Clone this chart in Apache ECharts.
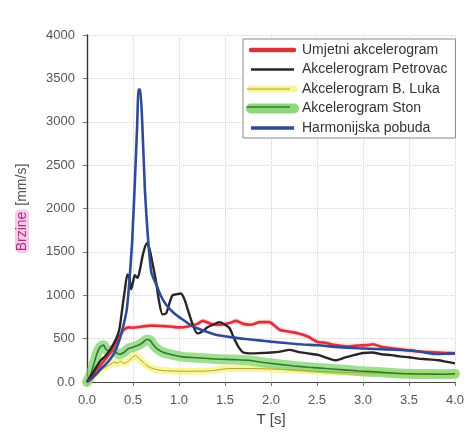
<!DOCTYPE html>
<html>
<head>
<meta charset="utf-8">
<script src="https://cdn.jsdelivr.net/npm/echarts@6/dist/echarts.min.js"></script>
<style>
  html, body { margin: 0; padding: 0; background: #fff; }
  #chart { width: 467px; height: 432px; }
</style>
</head>
<body>
<div id="chart"></div>
<script>
// Velocity spectra: period T [s] vs. velocity [mm/s]
const xTicks = [0.0, 0.5, 1.0, 1.5, 2.0, 2.5, 3.0, 3.5, 4.0];
const yTicks = [0, 500, 1000, 1500, 2000, 2500, 3000, 3500, 4000];

const umjetni = [
  [0, 0], [0.05, 60], [0.1, 130], [0.15, 200], [0.2, 260], [0.25, 330], [0.3, 420],
  [0.35, 520], [0.4, 600], [0.45, 630], [0.5, 625], [0.6, 640], [0.7, 650], [0.8, 645],
  [0.9, 640], [1.0, 630], [1.1, 640], [1.2, 670], [1.26, 705], [1.35, 670], [1.45, 660],
  [1.55, 680], [1.62, 705], [1.7, 670], [1.78, 660], [1.88, 690], [1.98, 690], [2.05, 640],
  [2.1, 600], [2.2, 580], [2.3, 560], [2.4, 525], [2.5, 465], [2.6, 450], [2.7, 425],
  [2.84, 410], [2.95, 420], [3.05, 425], [3.11, 435], [3.2, 405], [3.31, 390], [3.45, 370],
  [3.57, 355], [3.7, 345], [3.82, 340], [3.9, 335], [4.0, 330]
];

const petrovac = [
  [0, 0], [0.05, 80], [0.1, 170], [0.15, 250], [0.2, 300], [0.25, 370], [0.3, 460],
  [0.35, 600], [0.38, 820], [0.41, 1050], [0.44, 1240], [0.46, 1200], [0.48, 1070],
  [0.5, 1150], [0.52, 1230], [0.55, 1200], [0.58, 1320], [0.61, 1480], [0.65, 1600],
  [0.68, 1530], [0.71, 1380], [0.75, 1160], [0.78, 950], [0.82, 780], [0.86, 790],
  [0.9, 920], [0.93, 1000], [0.97, 1010], [1.02, 1020], [1.06, 950], [1.1, 820],
  [1.15, 660], [1.2, 560], [1.25, 580], [1.31, 630], [1.37, 660], [1.44, 690], [1.5, 660],
  [1.55, 620], [1.6, 500], [1.65, 400], [1.7, 340], [1.8, 330], [1.9, 335], [2.0, 340],
  [2.1, 350], [2.2, 370], [2.3, 345], [2.4, 330], [2.52, 310], [2.6, 280], [2.7, 250],
  [2.8, 280], [2.9, 310], [3.0, 335], [3.1, 340], [3.2, 320], [3.31, 310], [3.4, 295],
  [3.5, 285], [3.6, 270], [3.7, 262], [3.82, 250], [3.9, 235], [4.0, 215]
];

const bLuka = [
  [0, 0], [0.05, 40], [0.1, 100], [0.15, 140], [0.2, 170], [0.25, 200], [0.3, 230],
  [0.33, 215], [0.36, 240], [0.4, 215], [0.45, 240], [0.5, 290], [0.53, 305], [0.56, 275],
  [0.6, 240], [0.65, 190], [0.7, 160], [0.8, 135], [0.9, 128], [1.0, 125], [1.1, 124],
  [1.2, 125], [1.3, 126], [1.4, 135], [1.5, 152], [1.6, 155], [1.8, 155], [2.0, 150],
  [2.2, 140], [2.4, 130], [2.6, 120], [2.8, 112], [3.0, 105], [3.2, 100], [3.4, 95],
  [3.6, 90], [3.8, 87], [4.0, 85]
];

const ston = [
  [0, 0], [0.05, 120], [0.1, 300], [0.14, 400], [0.18, 425], [0.2, 385], [0.23, 360],
  [0.27, 370], [0.3, 350], [0.35, 320], [0.4, 340], [0.45, 385], [0.5, 400], [0.55, 420],
  [0.6, 450], [0.65, 490], [0.68, 485], [0.72, 430], [0.76, 385], [0.82, 345], [0.9, 320],
  [1.04, 290], [1.2, 280], [1.4, 265], [1.6, 258], [1.76, 250], [1.9, 228], [2.12, 200],
  [2.25, 185], [2.41, 170], [2.6, 155], [2.8, 140], [2.95, 127], [3.2, 112], [3.49, 95],
  [3.7, 92], [3.85, 90], [4.0, 95]
];

const harmonijska = [
  [0, 0], [0.05, 40], [0.1, 90], [0.15, 150], [0.2, 200], [0.25, 260], [0.3, 340],
  [0.36, 510], [0.43, 820], [0.46, 1150], [0.49, 1600], [0.52, 2300], [0.545, 2950],
  [0.56, 3370], [0.58, 3370], [0.6, 3000], [0.63, 2200], [0.66, 1700], [0.7, 1260],
  [0.75, 1130], [0.8, 1000], [0.86, 890], [0.95, 790], [1.04, 720], [1.15, 640],
  [1.26, 594], [1.4, 545], [1.58, 514], [1.73, 495], [1.87, 480], [2.0, 465], [2.19, 446],
  [2.35, 432], [2.52, 423], [2.7, 405], [2.95, 389], [3.2, 378], [3.49, 366], [3.65, 345],
  [3.78, 322], [3.9, 325], [4.0, 330]
];

const legendNames = [
  'Umjetni akcelerogram',
  'Akcelerogram Petrovac',
  'Akcelerogram B. Luka',
  'Akcelerogram Ston',
  'Harmonijska pobuda'
];

const chart = echarts.init(document.getElementById('chart'), null, { renderer: 'canvas' });

const lineBase = { type: 'line', showSymbol: false, symbol: 'none', smooth: 0.25, silent: true };
const noMarker = { opacity: 0, borderWidth: 0 };

chart.setOption({
  backgroundColor: '#ffffff',
  animation: false,
  grid: { left: 87, right: 10, top: 35, bottom: 47, containLabel: false },
  xAxis: {
    type: 'value',
    min: xTicks[0], max: xTicks[xTicks.length - 1], interval: 0.5,
    name: 'T [s]', nameLocation: 'middle', nameGap: 30,
    nameTextStyle: { fontFamily: 'Liberation Sans', fontSize: 15, color: '#444' },
    axisLine: { lineStyle: { color: '#444', width: 1.2 } },
    axisTick: { show: true, length: 4, lineStyle: { color: '#777' } },
    axisLabel: {
      fontFamily: 'Liberation Sans', fontSize: 13, color: '#555', margin: 12,
      formatter: v => v.toFixed(1)
    },
    splitLine: { show: true, lineStyle: { color: '#d4d4d4', type: 'dotted', width: 1 } }
  },
  yAxis: {
    type: 'value',
    min: yTicks[0], max: yTicks[yTicks.length - 1], interval: 500,
    name: '{a|Brzine} {b|[mm/s]}', nameLocation: 'middle', nameGap: 58, nameRotate: 90,
    nameTextStyle: {
      fontFamily: 'Liberation Sans', fontSize: 14,
      rich: {
        a: { fontFamily: 'Liberation Sans', fontSize: 14, color: '#b0307c',
             backgroundColor: 'rgba(238,160,215,0.55)', borderRadius: 5, padding: [0, 2] },
        b: { fontFamily: 'Liberation Sans', fontSize: 14, color: '#555' }
      }
    },
    axisLine: { show: true, lineStyle: { color: '#333', width: 1.4 } },
    axisTick: { show: true, length: 4, lineStyle: { color: '#777' } },
    axisLabel: {
      fontFamily: 'Liberation Sans', fontSize: 13, color: '#555', margin: 12,
      formatter: v => (v === 0 ? '0.0' : String(v))
    },
    splitLine: { show: true, lineStyle: { color: '#d4d4d4', type: 'dotted', width: 1 } }
  },
  legend: [
    {
      orient: 'vertical', left: 243, top: 39,
      padding: [4, 8, 3, 3],
      itemWidth: 43, itemHeight: 14, itemGap: 5.5,
      itemStyle: noMarker,
      backgroundColor: '#ffffff', borderColor: '#8a8a8a', borderWidth: 1,
      selectedMode: false,
      textStyle: { fontFamily: 'Liberation Sans', fontSize: 14, color: '#333', padding: [0, 0, 0, 3] },
      data: [
        { name: legendNames[0], itemStyle: noMarker, lineStyle: { width: 4.5, color: '#d9343e', cap: 'round' } },
        { name: legendNames[1], itemStyle: noMarker, lineStyle: { width: 2.5, color: '#2a2427' } },
        { name: legendNames[2], itemStyle: noMarker, lineStyle: { width: 7, color: 'rgba(248,242,140,0.9)' } },
        { name: legendNames[3], itemStyle: noMarker, lineStyle: { width: 10, color: 'rgba(120,208,100,0.85)', cap: 'round' } },
        { name: legendNames[4], itemStyle: noMarker, lineStyle: { width: 3.5, color: '#2f4b98' } }
      ]
    },
    {
      // inner core lines drawn over the two band icons
      orient: 'vertical', left: 243, top: 39 + 4 + 2 * 19.5,
      padding: [0, 0, 0, 3],
      itemWidth: 43, itemHeight: 14, itemGap: 5.5,
      itemStyle: noMarker,
      selectedMode: false,
      textStyle: { color: 'rgba(0,0,0,0)', fontSize: 14 },
      formatter: () => '',
      data: [
        { name: 'B. Luka srednja', itemStyle: noMarker, lineStyle: { width: 1, color: '#a9a33a' } },
        { name: 'Ston srednja', itemStyle: noMarker, lineStyle: { width: 1.5, color: '#2f7a32' } }
      ]
    }
  ],
  series: [
    Object.assign({}, lineBase, {
      name: legendNames[2], data: bLuka, z: 1,
      lineStyle: { width: 7, color: 'rgba(248,242,140,0.85)', cap: 'round', join: 'round' }
    }),
    Object.assign({}, lineBase, {
      name: legendNames[3], data: ston, z: 2,
      lineStyle: { width: 10, color: 'rgba(120,208,100,0.7)', cap: 'round', join: 'round' }
    }),
    Object.assign({}, lineBase, {
      name: 'B. Luka srednja', data: bLuka, z: 3,
      lineStyle: { width: 1, color: '#a9a33a' }
    }),
    Object.assign({}, lineBase, {
      name: 'Ston srednja', data: ston, z: 3,
      lineStyle: { width: 1.6, color: '#2f7a32' }
    }),
    Object.assign({}, lineBase, {
      name: legendNames[0], data: umjetni, z: 4,
      lineStyle: { width: 2.6, color: '#d9343e', shadowBlur: 3, shadowColor: 'rgba(235,90,100,0.6)' }
    }),
    Object.assign({}, lineBase, {
      name: legendNames[1], data: petrovac, z: 5,
      lineStyle: { width: 2.4, color: '#2a2427' }
    }),
    Object.assign({}, lineBase, {
      name: legendNames[4], data: harmonijska, z: 6, smooth: 0.15,
      lineStyle: { width: 2.6, color: '#2f4b98' }
    })
  ]
});
</script>
</body>
</html>
